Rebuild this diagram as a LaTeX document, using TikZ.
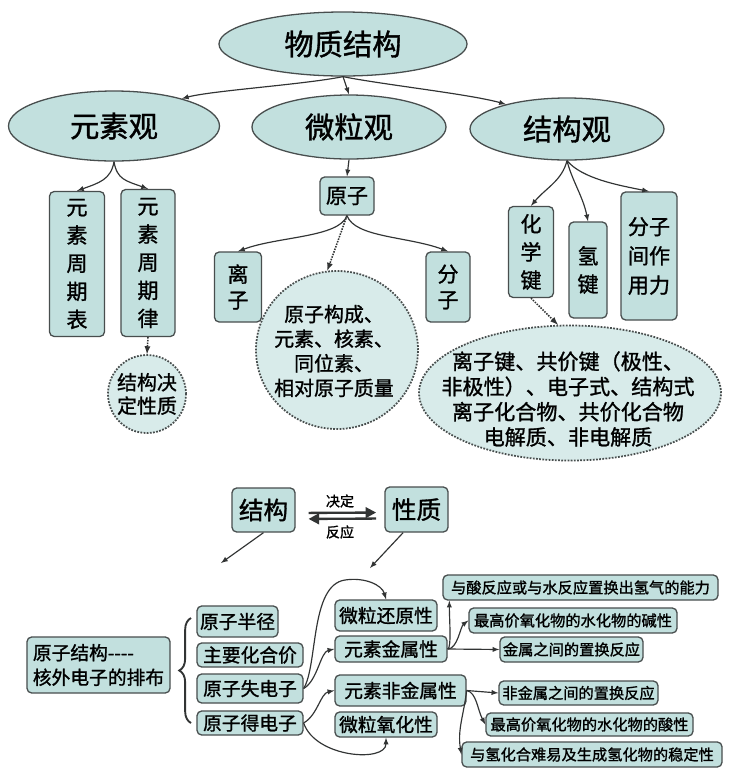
\documentclass[tikz,border=0pt]{standalone}
\usepackage{fontspec}
\setmainfont{Noto Sans CJK SC}[FakeBold=1.2]
\usetikzlibrary{shapes.geometric,decorations.pathreplacing,arrows.meta}

\definecolor{boxc}{RGB}{194,224,222}
\definecolor{dotc}{RGB}{216,235,234}
\definecolor{bordc}{RGB}{72,78,78}
\definecolor{arrc}{RGB}{50,52,52}

\tikzset{
  bx/.style={draw=bordc, fill=boxc, line width=1.1pt, rounded corners=4pt, inner sep=0pt, align=center},
  ov/.style={ellipse, draw=bordc, fill=boxc, line width=1.1pt, inner sep=0pt, align=center, font=\fontsize{25pt}{30pt}\selectfont},
  dov/.style={ellipse, draw=bordc, fill=dotc, line width=1.5pt, dash pattern=on 1.5pt off 1.2pt, inner sep=0pt},
  arr/.style={-latex, draw=arrc, line width=1pt},
  darr/.style={-latex, draw=arrc, line width=1.3pt, dash pattern=on 1.3pt off 1pt},
  vt/.style={font=\fontsize{18pt}{24pt}\selectfont},
  sm/.style={font=\fontsize{16pt}{21pt}\selectfont},
  rtxt/.style={font=\fontsize{13pt}{15pt}\selectfont},
}

\begin{document}
\begin{tikzpicture}[x=0.03cm,y=-0.03cm]

\fill[white] (0,0) rectangle (733,774);
\useasboundingbox (0,0) rectangle (733,774);

% 物质结构
\node[ov, minimum width=7.44cm, minimum height=1.92cm] (wuzhi) at (343,44) {物质结构};
\node[ov, minimum width=6.33cm, minimum height=2.1cm] (yuansu) at (114,126) {元素观};
\node[ov, minimum width=5.82cm, minimum height=1.92cm] (weili) at (349,127) {微粒观};
\node[ov, minimum width=5.82cm, minimum height=1.86cm] (jiegou) at (567,129) {结构观};

\draw[arr] (wuzhi.south) .. controls +(-40,8) and +(30,-8) .. (yuansu.22);
\draw[arr] (wuzhi.south) -- (weili.north);
\draw[arr] (wuzhi.south) .. controls +(40,8) and +(-35,-10) .. (jiegou.158);

% 元素观
\node[bx, vt, minimum width=1.65cm, minimum height=4.35cm] (zqb) at (77,264) {元\\素\\周\\期\\表};
\node[bx, vt, minimum width=1.62cm, minimum height=4.41cm] (zql) at (148,263) {元\\素\\周\\期\\律};
\node[dov, circle, align=center, minimum size=2.34cm, font=\fontsize{17pt}{20pt}\selectfont] (jgjd) at (147,394) {结构决\\定性质};

\draw[arr] (yuansu.south) .. controls +(-3,18) and +(22,-8) .. (zqb.north);
\draw[arr] (yuansu.south) .. controls +(3,18) and +(-22,-8) .. (zql.north);
\draw[darr] (zql.south) -- (jgjd.north);

% 微粒观
\node[bx, vt, minimum width=1.62cm, minimum height=1.14cm] (yuanzi) at (347,196) {原子};
\node[bx, font=\fontsize{18pt}{22pt}\selectfont, minimum width=1.41cm, minimum height=2.1cm] (lizi) at (238,287) {离\\子};
\node[bx, font=\fontsize{18pt}{22pt}\selectfont, minimum width=1.32cm, minimum height=2.1cm] (fenzi) at (448,287) {分\\子};
\node[dov, minimum width=4.86cm, minimum height=4.74cm] (yzgc) at (337,350) {};
\node[font=\fontsize{17pt}{21pt}\selectfont, align=center] (yzgct) at (334,351) {原子构成、\\元素、核素、\\同位素、\\相对原子质量};

\draw[arr] (weili.south) -- (yuanzi.north);
\draw[arr] (yuanzi.south) .. controls +(-8,22) and +(40,-15) .. (lizi.north);
\draw[arr] (yuanzi.south) .. controls +(8,22) and +(-40,-15) .. (fenzi.north);
\draw[darr] (yuanzi.south) -- (yzgc.97);

% 结构观
\node[bx, vt, minimum width=1.35cm, minimum height=2.73cm] (hxj) at (531,252) {化\\学\\键};
\node[bx, vt, minimum width=1.14cm, minimum height=2.88cm] (qj) at (588,270) {氢\\键};
\node[bx, font=\fontsize{18pt}{25pt}\selectfont, minimum width=1.68cm, minimum height=3.84cm] (fzj) at (649,256) {分子\\间作\\用力};
\node[dov, minimum width=9.06cm, minimum height=4.05cm] (ljgj) at (570,393) {};
\node[font=\fontsize{18pt}{21.5pt}\selectfont, align=center] (ljgjt) at (568,399) {离子键、共价键（极性、\\非极性）、电子式、结构式\\离子化合物、共价化合物\\电解质、非电解质};

\draw[arr] (jiegou.south) .. controls +(-5,20) and +(15,-18) .. (hxj.north);
\draw[arr] (jiegou.south) .. controls +(5,20) and +(-5,-25) .. (qj.north);
\draw[arr] (jiegou.south) .. controls +(15,18) and +(-30,-6) .. (fzj.north);
\draw[darr] (hxj.south) -- (ljgj.100);

% 结构与性质
\node[bx, font=\fontsize{21pt}{24pt}\selectfont, minimum width=1.89cm, minimum height=1.32cm] (jg) at (263.5,510) {结构};
\node[bx, font=\fontsize{21pt}{24pt}\selectfont, minimum width=1.89cm, minimum height=1.35cm] (xz) at (416.5,509.5) {性质};
\draw[-{Triangle[length=9pt,width=9pt]}, draw=arrc, line width=2pt, shorten <=11pt, shorten >=7pt]
([yshift=-0.09cm]jg.east) -- ([yshift=-0.09cm]xz.west);
\draw[-{Triangle[length=9pt,width=9pt]}, draw=arrc, line width=2pt, shorten <=7pt, shorten >=11pt]
([yshift=-0.27cm]xz.west) -- ([yshift=-0.27cm]jg.east);
\node[font=\fontsize{12pt}{12pt}\selectfont] (jdl) at (340,501) {决定};
\node[font=\fontsize{12pt}{12pt}\selectfont] (fyl) at (340,532) {反应};

\coordinate (jgend) at (221,563);
\coordinate (xzend) at (370,568);
\draw[arr] (jg.south) -- (jgend);
\draw[arr] (xz.240) -- (xzend);

% 原子结构
\node[bx, sm, align=left, minimum width=4.29cm, minimum height=1.68cm] (yzjg) at (98.5,665) {原子结构-{}-{}-{}-\\核外电子的排布};
\draw[decorate, decoration={brace, amplitude=10pt}, draw=arrc, line width=1.6pt] (191,723) -- (191,618);

\node[bx, sm, minimum width=2.43cm, minimum height=0.93cm] (bj) at (237.5,621.5) {原子半径};
\node[bx, sm, minimum width=3.18cm, minimum height=0.72cm] (hjj) at (250,655) {主要化合价};
\node[bx, sm, minimum width=3.18cm, minimum height=0.87cm] (sdz) at (250,688.5) {原子失电子};
\node[bx, sm, minimum width=3.18cm, minimum height=0.72cm] (ddz) at (250,723) {原子得电子};

\node[bx, sm, minimum width=3.06cm, minimum height=0.93cm] (hyx) at (386,615.5) {微粒还原性};
\node[bx, sm, minimum width=3.36cm, minimum height=0.78cm] (jsx) at (391,649) {元素金属性};
\node[bx, sm, minimum width=3.93cm, minimum height=0.93cm] (fjsx) at (400.5,690.5) {元素非金属性};
\node[bx, sm, minimum width=3.06cm, minimum height=0.75cm] (yhx) at (386,724.5) {微粒氧化性};

\draw[arr] (sdz.east) .. controls (318,665) and (310,585) .. (345,580) .. controls (365,577) and (382,585) .. (hyx.north);
\draw[arr] (sdz.east) .. controls +(14,-8) and +(-14,3) .. (jsx.west);
\draw[arr] (ddz.east) .. controls +(14,-8) and +(-14,3) .. (fjsx.west);
\draw[arr] (ddz.east) .. controls +(12,35) and +(0,25) .. (yhx.south);

% 性质细分
\node[bx, rtxt, minimum width=8.25cm, minimum height=0.75cm] (r1) at (580.5,587.5) {与酸反应或与水反应置换出氢气的能力};
\node[bx, rtxt, minimum width=6.24cm, minimum height=0.75cm] (r2) at (573,620.5) {最高价氧化物的水化物的碱性};
\node[bx, rtxt, minimum width=4.29cm, minimum height=0.75cm] (r3) at (571.5,649.5) {金属之间的置换反应};
\node[bx, rtxt, minimum width=4.77cm, minimum height=0.72cm] (r4) at (578.5,693) {非金属之间的置换反应};
\node[bx, rtxt, minimum width=6.21cm, minimum height=0.69cm] (r5) at (589.5,724.5) {最高价氧化物的水化物的酸性};
\node[bx, rtxt, minimum width=7.8cm, minimum height=0.75cm] (r6) at (592,754.5) {与氢化合难易及生成氢化物的稳定性};

\draw[arr] (jsx.east) .. controls +(4,0) and +(0,18) .. ([xshift=0.21cm]r1.south west);
\draw[arr] (jsx.east) .. controls +(10,0) and +(-8,6) .. (r2.west);
\draw[arr] (jsx.east) -- (r3.west);
\draw[arr] (fjsx.east) -- (r4.west);
\draw[arr] (fjsx.east) .. controls +(10,2) and +(-8,-15) .. (r5.west);
\draw[arr] (fjsx.east) .. controls +(-3,25) and +(-4,-25) .. (r6.west);

\end{tikzpicture}
\end{document}
